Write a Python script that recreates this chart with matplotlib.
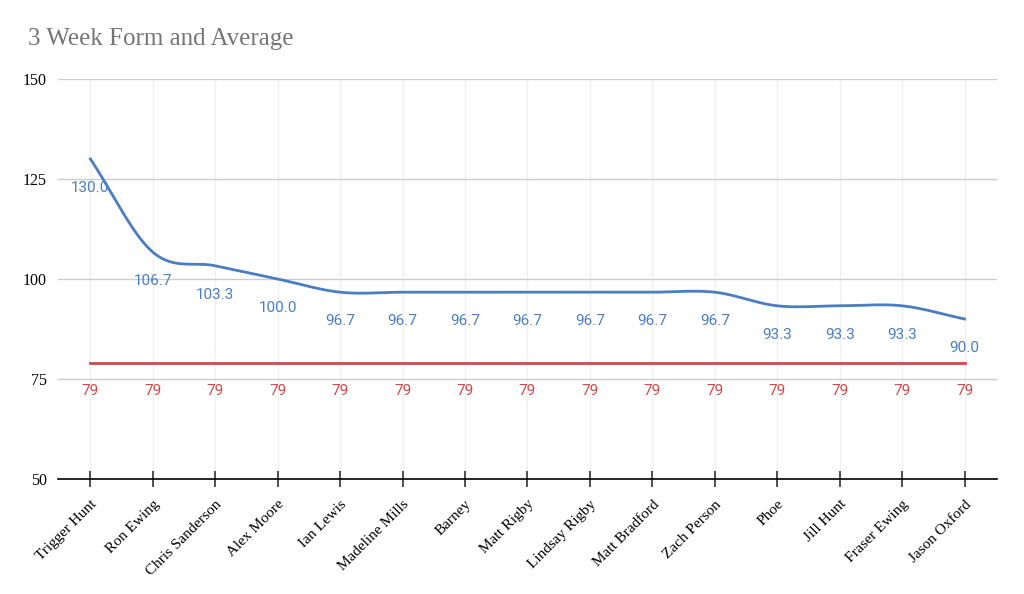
import matplotlib.pyplot as plt
import numpy as np

# data
names = ['Trigger Hunt', 'Ron Ewing', 'Chris Sanderson', 'Alex Moore', 'Ian Lewis',
         'Madeline Mills', 'Barney', 'Matt Rigby', 'Lindsay Rigby', 'Matt Bradford',
         'Zach Person', 'Phoe', 'Jill Hunt', 'Fraser Ewing', 'Jason Oxford']
form = [130.0, 106.7, 103.3, 100.0, 96.7, 96.7, 96.7, 96.7, 96.7, 96.7, 96.7,
        93.3, 93.3, 93.3, 90.0]
average = [79] * len(names)

blue = '#4a7ec0'
red = '#cc4b4b'


def smooth(x, y, n=20):
    # catmull-rom style curve through the points, just for drawing
    x = np.asarray(x, float)
    y = np.asarray(y, float)
    m = np.gradient(y, x)
    xs, ys = [], []
    for i in range(len(x) - 1):
        h = x[i + 1] - x[i]
        t = np.linspace(0, 1, n, endpoint=False)
        h00 = 2*t**3 - 3*t**2 + 1
        h10 = t**3 - 2*t**2 + t
        h01 = -2*t**3 + 3*t**2
        h11 = t**3 - t**2
        xs.append(x[i] + t*h)
        ys.append(h00*y[i] + h10*h*m[i] + h01*y[i+1] + h11*h*m[i+1])
    xs.append([x[-1]])
    ys.append([y[-1]])
    return np.concatenate(xs), np.concatenate(ys)


fig = plt.figure(figsize=(10.24, 5.94), dpi=100)
ax = fig.add_axes([0.0566, 0.1936, 0.917, 0.6734])

xpos = np.arange(len(names))
sx, sy = smooth(xpos, form)
ax.plot(sx, sy, color=blue, linewidth=2, zorder=3)
ax.plot(xpos, average, color=red, linewidth=2, zorder=3)

for i in range(len(names)):
    ax.annotate('%.1f' % form[i], (xpos[i], form[i]), xytext=(0, -21),
                textcoords='offset points', ha='center', va='center',
                color=blue, fontsize=11, family='Roboto')
    ax.annotate(str(average[i]), (xpos[i], average[i]), xytext=(0, -20.5),
                textcoords='offset points', ha='center', va='center',
                color=red, fontsize=11, family='Roboto')

ax.set_ylim(50, 150)
ax.set_yticks([50, 75, 100, 125, 150])
ax.set_xlim(-0.52, len(names) - 0.48)
ax.set_xticks(xpos)
ax.set_xticklabels(names, rotation=45, ha='right', rotation_mode='anchor',
                   family='Liberation Serif', fontsize=11)
for lab in ax.get_yticklabels():
    lab.set_family('Liberation Serif')
    lab.set_fontsize(11.5)

ax.grid(axis='y', color='#cccccc', linewidth=1)
for x in xpos:
    ax.axvline(x, color='#f0f0f0', linewidth=1, zorder=0)
ax.set_axisbelow(True)

for s in ['top', 'right', 'left']:
    ax.spines[s].set_visible(False)
ax.spines['bottom'].set_color('black')
ax.spines['bottom'].set_linewidth(1.2)
ax.tick_params(axis='x', direction='inout', length=11, width=1.2, color='#333333', pad=8)
ax.tick_params(axis='y', length=0, pad=8)

fig.text(0.027, 0.935, '3 Week Form and Average', fontsize=18,
         family='Liberation Serif', color='#757575', va='center')

fig.savefig('out.png', dpi=100)
